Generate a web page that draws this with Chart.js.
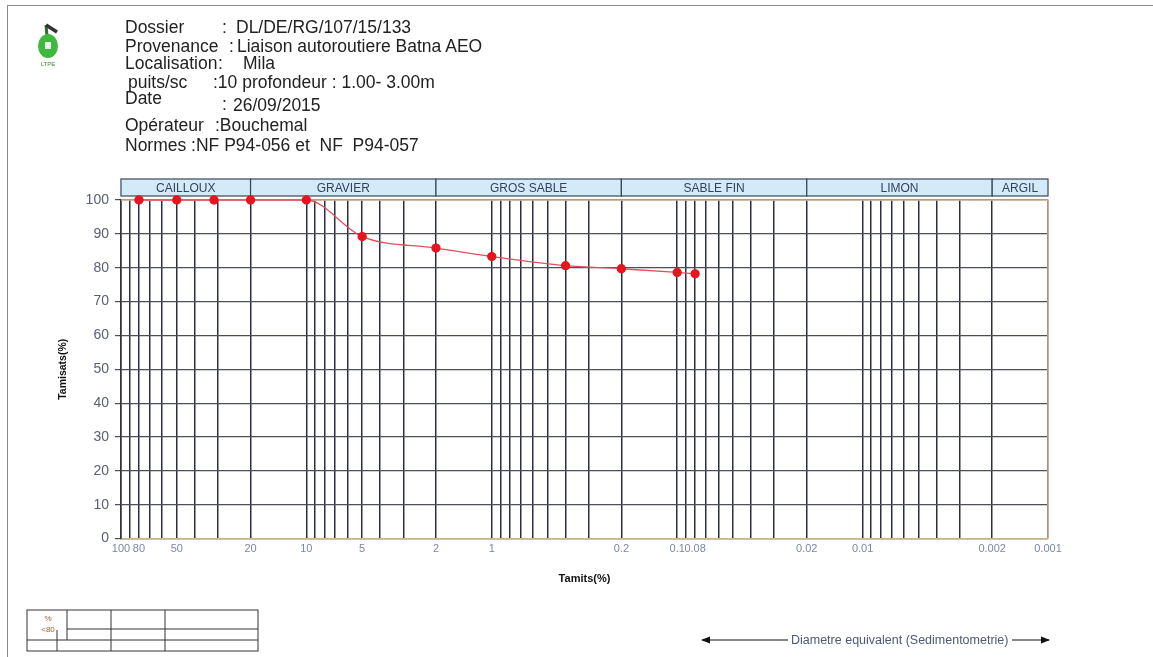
<!DOCTYPE html>
<html>
<head>
<meta charset="utf-8">
<script src="https://cdn.jsdelivr.net/npm/chart.js@4.4.1/dist/chart.umd.min.js"></script>
<style>
  body { margin: 0; background: #fff; font-family: "Liberation Sans", Arial, sans-serif; }
  #page { position: relative; width: 1153px; height: 657px; overflow: hidden; }
  #frame { position: absolute; left: 7px; top: 5px; right: -3px; bottom: -3px; border-left: 1px solid #8a8a8a; border-top: 1px solid #8a8a8a; }
  canvas { position: absolute; left: 0; top: 0; }
  .h { position: absolute; font-size: 17.5px; color: #222; white-space: pre; line-height: 19px; }
  #logo, #table, #arrow { position: absolute; left: 0; top: 0; }
</style>
</head>
<body>
<div id="page">
  <div id="frame"></div>
  <canvas id="granChart" width="1153" height="657"></canvas>

  <svg id="logo" width="100" height="80">
    <line x1="46" y1="25" x2="47" y2="36" stroke="#2e6e2e" stroke-width="3"/>
    <line x1="46" y1="25" x2="57" y2="32" stroke="#333" stroke-width="3.5"/>
    <ellipse cx="48" cy="46" rx="10" ry="12" fill="#3fb83f"/>
    <rect x="45" y="42" width="6" height="7" fill="#e8f4e8"/>
    <text x="48" y="66" font-size="6" fill="#3a8a3a" text-anchor="middle" font-family="Liberation Sans, Arial">LTPE</text>
  </svg>

  <span class="h" style="left:125px;top:18px">Dossier</span>
  <span class="h" style="left:222px;top:18px">:</span>
  <span class="h" style="left:236px;top:18px">DL/DE/RG/107/15/133</span>
  <span class="h" style="left:125px;top:37px">Provenance</span>
  <span class="h" style="left:229px;top:37px">:</span>
  <span class="h" style="left:237px;top:37px">Liaison autoroutiere Batna AEO</span>
  <span class="h" style="left:125px;top:54px">Localisation</span>
  <span class="h" style="left:218px;top:54px">:</span>
  <span class="h" style="left:243px;top:54px">Mila</span>
  <span class="h" style="left:128px;top:73px">puits/sc</span>
  <span class="h" style="left:213px;top:73px">:10 profondeur : 1.00- 3.00m</span>
  <span class="h" style="left:125px;top:89px">Date</span>
  <span class="h" style="left:222px;top:95px">:</span>
  <span class="h" style="left:233px;top:96px">26/09/2015</span>
  <span class="h" style="left:125px;top:116px">Opérateur</span>
  <span class="h" style="left:215px;top:116px">:Bouchemal</span>
  <span class="h" style="left:125px;top:136px">Normes :NF P94-056 et  NF  P94-057</span>

  <svg id="table" width="300" height="657">
    <rect x="27" y="610" width="231" height="41" fill="none" stroke="#333" stroke-width="1"/>
    <line x1="67" y1="610" x2="67" y2="640" stroke="#333"/>
    <line x1="111" y1="610" x2="111" y2="651" stroke="#333"/>
    <line x1="165" y1="610" x2="165" y2="651" stroke="#333"/>
    <line x1="67" y1="629" x2="258" y2="629" stroke="#333"/>
    <line x1="27" y1="640" x2="258" y2="640" stroke="#333"/>
    <line x1="57" y1="630" x2="57" y2="651" stroke="#333"/>
    <text x="48" y="621" font-size="8" fill="#a0603a" text-anchor="middle" font-family="Liberation Sans, Arial">%</text>
    <text x="48" y="632" font-size="8" fill="#a0603a" text-anchor="middle" font-family="Liberation Sans, Arial">&lt;80</text>
  </svg>

  <svg id="arrow" width="1153" height="657">
    <defs>
      <marker id="ah" markerWidth="8" markerHeight="8" refX="7" refY="4" orient="auto">
        <path d="M0,1 L8,4 L0,7 z" fill="#111"/>
      </marker>
    </defs>
    <line x1="788" y1="640" x2="702" y2="640" stroke="#111" stroke-width="1.2" marker-end="url(#ah)"/>
    <line x1="1012" y1="640" x2="1049" y2="640" stroke="#111" stroke-width="1.2" marker-end="url(#ah)"/>
    <text x="791" y="644" font-size="12.5" fill="#4e5878" font-family="Liberation Sans, Arial">Diametre  equivalent (Sedimentometrie)</text>
  </svg>
</div>

<script>
// tamis (mm) et pourcentage de passants
const sieveSizes = [80, 50, 31.5, 20, 10, 5, 2, 1, 0.4, 0.2, 0.1, 0.08]
const passing = [100, 100, 100, 100, 100, 89.2, 85.8, 83.3, 80.6, 79.7, 78.6, 78.2]

// lignes verticales de la grille log
const gridValues = [
    100, 90, 80, 70, 60, 50, 40, 30, 20, 10,
    9, 8, 7, 6, 5, 4, 3, 2, 1,
    0.9, 0.8, 0.7, 0.6, 0.5, 0.4, 0.3, 0.2, 0.1,
    0.09, 0.08, 0.07, 0.06, 0.05, 0.04, 0.03, 0.02, 0.01,
    0.009, 0.008, 0.007, 0.006, 0.005, 0.004, 0.003, 0.002, 0.001
]
const labeledTicks = [100, 80, 50, 20, 10, 5, 2, 1, 0.2, 0.1, 0.08, 0.02, 0.01, 0.002, 0.001]

// bandeau des classes granulaires
const bandNames = ['CAILLOUX', 'GRAVIER', 'GROS SABLE', 'SABLE FIN', 'LIMON', 'ARGIL']
const bandLimits = [100, 20, 2, 0.2, 0.02, 0.002, 0.001]

const decorPlugin = {
    id: 'decor',
    beforeDatasetsDraw(chart) {
        const { ctx, chartArea: a, scales: { x } } = chart
        ctx.save()
        ctx.strokeStyle = '#d4b68c'
        ctx.lineWidth = 1.5
        ctx.beginPath()
        ctx.moveTo(a.left, a.top)
        ctx.lineTo(a.right, a.top)
        ctx.lineTo(a.right, a.bottom)
        ctx.stroke()

        const top = a.top - 21, h = 17
        ctx.font = '12px "Liberation Sans", Arial'
        ctx.textAlign = 'center'
        ctx.textBaseline = 'middle'
        bandNames.forEach((name, i) => {
            const x0 = x.getPixelForValue(bandLimits[i])
            const x1 = x.getPixelForValue(bandLimits[i + 1])
            ctx.fillStyle = '#d3ebf8'
            ctx.fillRect(x0, top, x1 - x0, h)
            ctx.strokeStyle = '#3a4656'
            ctx.lineWidth = 1.2
            ctx.strokeRect(x0, top, x1 - x0, h)
            ctx.fillStyle = '#33415e'
            ctx.fillText(name, (x0 + x1) / 2, top + h / 2 + 1)
        })
        ctx.restore()
    }
}

const context = document.getElementById('granChart').getContext('2d')

const data = {
    datasets: [
        {
            label: 'Tamisats',
            data: sieveSizes.map((s, idx) => ({ x: s, y: passing[idx] })),
            borderColor: '#e2505e',
            borderWidth: 1.3,
            backgroundColor: '#e8141e',
            pointBackgroundColor: '#e8141e',
            pointBorderColor: '#e8141e',
            pointRadius: 4,
            cubicInterpolationMode: 'monotone',
            clip: false,
        }
    ]
}

const config = {
    type: 'line',
    data: data,
    options: {
        responsive: false,
        animation: false,
        layout: { padding: { left: 57, right: 105, top: 200, bottom: 71 } },
        plugins: {
            legend: { display: false },
            tooltip: { enabled: false },
        },
        scales: {
            x: {
                type: 'logarithmic',
                reverse: true,
                min: 0.001,
                max: 100,
                afterBuildTicks: (scale) => {
                    scale.ticks = gridValues.map(v => ({ value: v }))
                },
                ticks: {
                    autoSkip: false,
                    maxRotation: 0,
                    padding: 4,
                    color: '#7a86a6',
                    font: { family: '"Liberation Sans", Arial', size: 11 },
                    callback: (value) => labeledTicks.includes(value) ? String(value) : '',
                },
                grid: { color: '#2a2e42', lineWidth: 1.5, drawTicks: false },
                border: { color: '#cbb38a', width: 1.5 },
                title: {
                    display: true,
                    text: 'Tamits(%)',
                    color: '#111',
                    font: { family: '"Liberation Sans", Arial', size: 11, weight: 'bold' },
                    padding: { top: 13, bottom: 0 },
                },
            },
            y: {
                min: 0,
                max: 100,
                ticks: {
                    stepSize: 10,
                    padding: 6,
                    color: '#5a6072',
                    font: { family: '"Liberation Sans", Arial', size: 14 },
                },
                grid: { color: '#4c4e5a', lineWidth: 1.2, tickLength: 6 },
                border: { color: '#333', width: 1.5 },
                title: {
                    display: true,
                    text: 'Tamisats(%)',
                    color: '#111',
                    font: { family: '"Liberation Sans", Arial', size: 10.5, weight: 'bold' },
                    padding: { top: 0, bottom: 10 },
                },
            },
        },
    },
    plugins: [decorPlugin],
}

const chart = new Chart(context, config)
</script>
</body>
</html>
